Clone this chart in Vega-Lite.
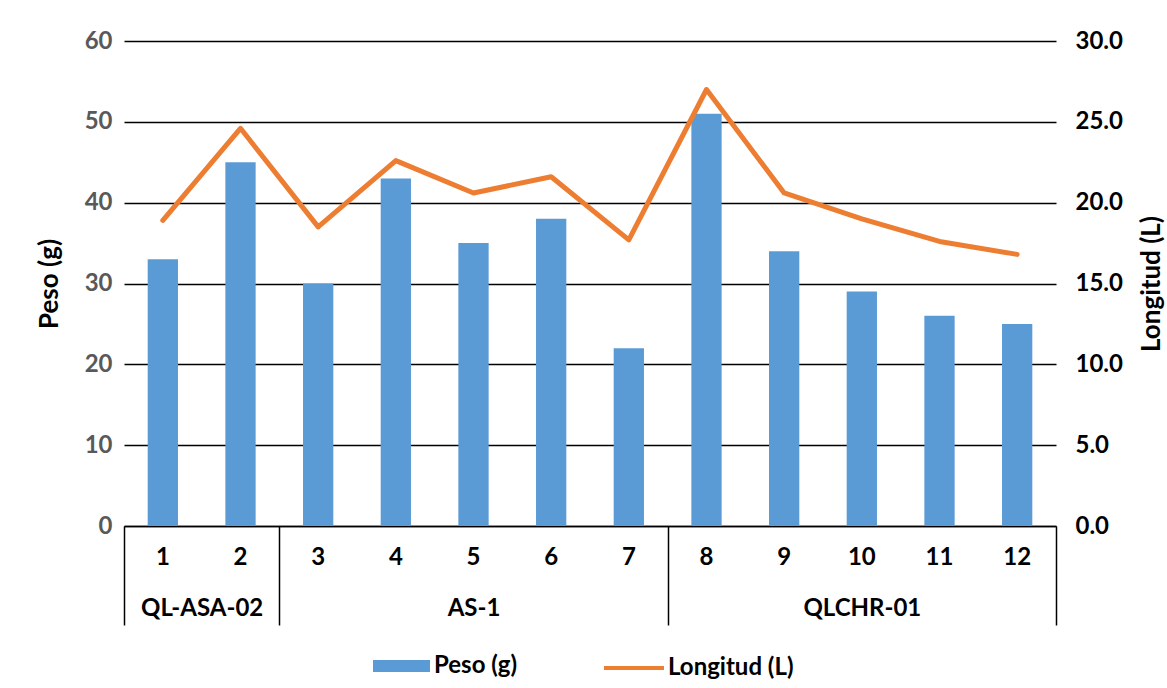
{
  "$schema": "https://vega.github.io/schema/vega-lite/v6.json",
  "width": 932,
  "height": 485,
  "autosize": {"type": "none"},
  "padding": {"left": 124, "top": 41, "right": 111, "bottom": 162},
  "background": "white",
  "config": {
    "font": "Lato",
    "view": {"stroke": null},
    "axis": {
      "labelFont": "Lato",
      "labelFontSize": 24,
      "labelFontWeight": "bold",
      "titleFont": "Lato",
      "titleFontSize": 26,
      "titleFontWeight": "bold",
      "titleColor": "#000000"
    },
    "legend": {
      "orient": "none",
      "title": null,
      "padding": 0,
      "labelFont": "Lato",
      "labelFontSize": 24,
      "labelFontWeight": "bold",
      "labelColor": "#000000",
      "symbolSize": 3600
    }
  },
  "data": {
    "values": [
      {"n": 1, "grupo": "QL-ASA-02", "peso": 33, "longitud": 18.9},
      {"n": 2, "grupo": "QL-ASA-02", "peso": 45, "longitud": 24.6},
      {"n": 3, "grupo": "AS-1", "peso": 30, "longitud": 18.5},
      {"n": 4, "grupo": "AS-1", "peso": 43, "longitud": 22.6},
      {"n": 5, "grupo": "AS-1", "peso": 35, "longitud": 20.6},
      {"n": 6, "grupo": "AS-1", "peso": 38, "longitud": 21.6},
      {"n": 7, "grupo": "AS-1", "peso": 22, "longitud": 17.7},
      {"n": 8, "grupo": "QLCHR-01", "peso": 51, "longitud": 27.0},
      {"n": 9, "grupo": "QLCHR-01", "peso": 34, "longitud": 20.6},
      {"n": 10, "grupo": "QLCHR-01", "peso": 29, "longitud": 19.0},
      {"n": 11, "grupo": "QLCHR-01", "peso": 26, "longitud": 17.6},
      {"n": 12, "grupo": "QLCHR-01", "peso": 25, "longitud": 16.8}
    ]
  },
  "layer": [
    {
      "mark": {"type": "bar", "width": {"band": 0.39}},
      "encoding": {
        "x": {
          "field": "n",
          "type": "ordinal",
          "scale": {"paddingInner": 0, "paddingOuter": 0},
          "axis": {
            "orient": "bottom",
            "title": null,
            "labelAngle": 0,
            "labelColor": "#000000",
            "labelPadding": 19,
            "labelOverlap": false,
            "ticks": false,
            "domain": true,
            "domainColor": "#000000",
            "domainWidth": 1.5
          }
        },
        "y": {
          "field": "peso",
          "type": "quantitative",
          "scale": {"domain": [0, 60], "nice": false},
          "axis": {
            "title": "Peso (g)",
            "values": [0, 10, 20, 30, 40, 50, 60],
            "labelColor": "#595959",
            "labelPadding": 12,
            "ticks": false,
            "domain": false,
            "grid": true,
            "gridColor": "#000000",
            "gridWidth": 1.5,
            "titlePadding": 22
          }
        },
        "fill": {
          "datum": "Peso (g)",
          "type": "nominal",
          "scale": {"domain": ["Peso (g)"], "range": ["#5B9BD5"]},
          "legend": {
            "legendX": 246,
            "legendY": 595,
            "labelOffset": 4,
            "symbolType": "M-0.9,-0.2H1V0.2H-0.9Z",
            "symbolStrokeWidth": 0,
            "symbolOpacity": 1
          }
        }
      }
    },
    {
      "mark": {"type": "line", "strokeWidth": 5, "strokeJoin": "round", "strokeCap": "round"},
      "encoding": {
        "x": {
          "field": "n",
          "type": "ordinal",
          "axis": {
            "orient": "bottom",
            "title": null,
            "labelAngle": 0,
            "labelExpr": "datum.value == 2 ? 'QL-ASA-02' : datum.value == 5 ? 'AS-1' : datum.value == 10 ? 'QLCHR-01' : ''",
            "labelColor": "#000000",
            "labelOverlap": false,
            "labelBound": false,
            "labelFlush": false,
            "labelBaseline": "top",
            "labelPadding": -29,
            "labelOffset": {"condition": {"test": "datum.value == 2", "value": -38.83}, "value": 0},
            "domain": false,
            "ticks": true,
            "tickBand": "extent",
            "tickSize": 99,
            "tickColor": "#000000",
            "tickWidth": 1.5,
            "tickOpacity": {"condition": {"test": "datum.extra || datum.value == 2 || datum.value == 7 || datum.value == 12", "value": 1}, "value": 0}
          }
        },
        "y": {
          "field": "longitud",
          "type": "quantitative",
          "scale": {"domain": [0, 30], "nice": false},
          "axis": {
            "title": "Longitud (L)",
            "orient": "right",
            "values": [0, 5, 10, 15, 20, 25, 30],
            "format": ".1f",
            "labelColor": "#000000",
            "labelPadding": 19,
            "ticks": false,
            "domain": false,
            "grid": false,
            "titleAngle": -90,
            "titleBaseline": "top",
            "titlePadding": 16
          }
        },
        "stroke": {
          "datum": "Longitud (L)",
          "type": "nominal",
          "scale": {"domain": ["Longitud (L)"], "range": ["#ED7D31"]},
          "legend": {
            "legendX": 478,
            "legendY": 595,
            "labelOffset": 2,
            "symbolType": "stroke",
            "symbolStrokeWidth": 4
          }
        }
      }
    }
  ],
  "resolve": {"scale": {"y": "independent"}, "axis": {"x": "independent"}}
}
